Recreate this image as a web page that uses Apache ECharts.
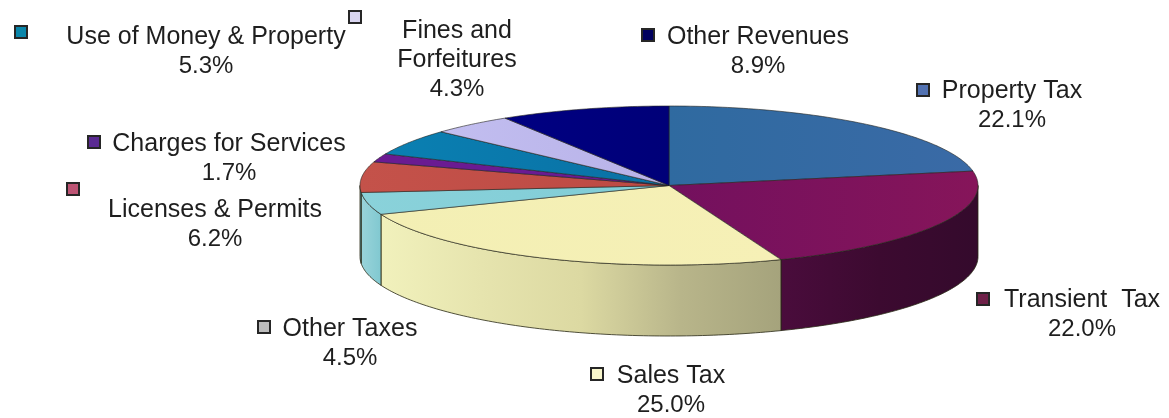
<!DOCTYPE html>
<html>
<head>
<meta charset="utf-8">
<title>Revenue by source</title>
<style>html,body{margin:0;padding:0;background:#fff}#chart{width:1169px;height:418px}</style>
<script src="https://cdn.jsdelivr.net/npm/echarts@6/dist/echarts.min.js"></script>
</head>
<body>
<div id="chart"></div>
<script>
// Revenue sources, clockwise from twelve o'clock.
const categories = ['Property Tax', 'Transient  Tax', 'Sales Tax', 'Other Taxes', 'Licenses & Permits',
  'Charges for Services', 'Use of Money & Property', 'Fines and\nForfeitures', 'Other Revenues'];
const shares = [22.1, 22.0, 25.0, 4.5, 6.2, 1.7, 5.3, 4.3, 8.9];

// Face, wall and legend-key colours for each slice.
const faceStops = [
  ['#2f6aa0', '#3a6aa6'], ['#73105e', '#86155a'], ['#f3efb4', '#f6f0b6'],
  ['#8ad2da', '#80ccd6'], ['#c4524a', '#bd4a44'], ['#6a1b92', '#6a1b92'],
  ['#0a80b2', '#0a70a4'], ['#c2bef0', '#b8b2e8'], ['#000082', '#000078']
];
const wallStops = [
  ['#2a5580', '#2a5580'], ['#4a0c3c', '#3c0a30', '#340a2c'],
  ['#f1f1bc', '#e6e4ae', '#dcd9a2', '#b8b58a', '#a5a37c'],
  ['#9ad4da', '#80c8d0'], ['#5f9aa6', '#5f9aa6'], ['#501470', '#501470'],
  ['#08608c', '#08608c'], ['#9a96c0', '#9a96c0'], ['#000060', '#000060']
];
const keyFills = ['#5272b2', '#6e2048', '#f8f6cc', '#bcbcbc', '#bd5474', '#5a2a92', '#0a86aa', '#d9d5f0', '#00005e'];

// Where each label block and its key sit on the canvas: [text centre x, first line y, key x, key y].
const labelSlots = [
  [1012, 91, 923, 90], [1082, 300, 983, 299], [671, 376, 597, 374],
  [350, 329, 264, 327], [215, 210, 73, 189], [229, 144, 94, 142],
  [206, 37, 21, 32], [457, 31, 355, 17], [758, 37, 648, 35]
];

// Projection of the tilted disc.
const disc = { cx: 669, cy: 185.5, rx: 309, ry: 79.5, depth: 71 };
const lineHeight = 29;
const textFont = { fontFamily: '"Liberation Sans", Arial, sans-serif', fill: '#1e1e1e' };
const nameSize = 25;
const percentSize = 24;

const total = shares.reduce((a, b) => a + b, 0);
const sliceEdges = shares.reduce((acc, v) => {
  acc.push(acc[acc.length - 1] + v / total * 360);
  return acc;
}, [0]);

function rimPoint(deg, drop) {
  const r = deg * Math.PI / 180;
  return [disc.cx + disc.rx * Math.sin(r), disc.cy - disc.ry * Math.cos(r) + drop];
}
function rimArc(from, to, drop) {
  const steps = Math.max(2, Math.ceil(Math.abs(to - from)));
  const pts = [];
  for (let k = 0; k <= steps; k++) pts.push(rimPoint(from + (to - from) * k / steps, drop));
  return pts;
}
const sideways = (c) => new echarts.graphic.LinearGradient(0, 0, 1, 0,
  c.map((color, k) => ({ offset: k / (c.length - 1), color })));

function renderWall(params) {
  const i = params.dataIndex;
  const from = Math.max(sliceEdges[i], 90);
  const to = Math.min(sliceEdges[i + 1], 270);
  if (to <= from) return { type: 'group', children: [] };
  return {
    type: 'polygon',
    shape: { points: rimArc(from, to, 0).concat(rimArc(to, from, disc.depth)) },
    style: { fill: sideways(wallStops[i]), stroke: 'rgba(40,40,20,0.8)', lineWidth: 1 }
  };
}

function renderFace(params) {
  const i = params.dataIndex;
  return {
    type: 'polygon',
    shape: { points: [[disc.cx, disc.cy]].concat(rimArc(sliceEdges[i], sliceEdges[i + 1], 0)) },
    style: { fill: sideways(faceStops[i]), stroke: 'rgba(35,35,30,0.75)', lineWidth: 0.8 }
  };
}

function renderLabel(params, api) {
  const i = params.dataIndex;
  const slot = labelSlots[i];
  const names = categories[i].split('\n');
  const lines = names.concat(api.value(1).toFixed(1) + '%');
  const children = lines.map((line, n) => ({
    type: 'text',
    style: Object.assign({
      text: line, x: slot[0], y: slot[1] + n * lineHeight, align: 'center', verticalAlign: 'middle',
      fontSize: n < names.length ? nameSize : percentSize
    }, textFont)
  }));
  children.push({
    type: 'rect',
    shape: { x: slot[2] - 6, y: slot[3] - 6, width: 12, height: 12 },
    style: { fill: keyFills[i], stroke: '#262626', lineWidth: 2 }
  });
  return { type: 'group', children };
}

const rows = shares.map((v, i) => [i, v]);
const chart = echarts.init(document.getElementById('chart'), null, { renderer: 'canvas' });
chart.setOption({
  animation: false,
  backgroundColor: '#ffffff',
  series: [
    { type: 'custom', coordinateSystem: 'none', z: 1, silent: true, data: rows, renderItem: renderWall },
    { type: 'custom', coordinateSystem: 'none', z: 2, silent: true, data: rows, renderItem: renderFace },
    { type: 'custom', coordinateSystem: 'none', z: 3, silent: true, data: rows, renderItem: renderLabel }
  ]
});
</script>
</body>
</html>
